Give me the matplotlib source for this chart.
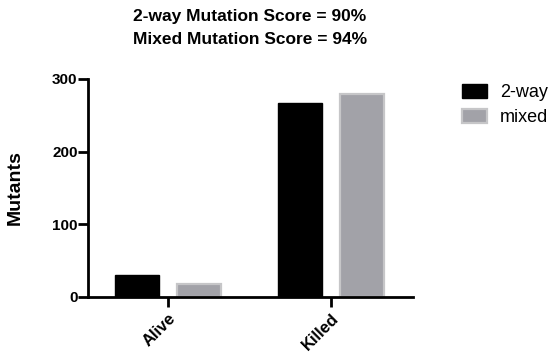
import numpy as np
import matplotlib.pyplot as plt

plt.rcParams['font.family'] = ['Liberation Sans', 'DejaVu Sans']

categories = ['Alive', 'Killed']
series_names = ['2-way', 'mixed']
two_way = [30, 267]
mixed = [18, 279]
title_lines = ['2-way Mutation Score = 90%', 'Mixed Mutation Score = 94%']

fig = plt.figure(figsize=(5.54, 3.56), dpi=100)
ax = fig.add_axes([88 / 554, 59 / 356, 325 / 554, 218 / 356])

x = np.arange(len(categories))
w = 0.268
ax.bar(x - 0.19, two_way, w, color='black', edgecolor='black', linewidth=1,
       label=series_names[0])
ax.bar(x + 0.19, mixed, w, color='#a2a2a8', edgecolor='#c6c6c8', linewidth=1.6,
       label=series_names[1])

ax.set_xlim(-0.488, 1.5)
ax.set_ylim(0, 300)
ax.set_yticks([0, 100, 200, 300])
ax.set_xticks(x)
ax.set_xticklabels(categories, rotation=45, ha='right', rotation_mode='anchor',
                   fontweight='bold', fontsize=12)
for lab in ax.get_yticklabels():
    lab.set_fontweight('bold')
    lab.set_fontsize(11)
ax.tick_params(axis='y', length=7, width=2, pad=0.5)
ax.tick_params(axis='x', length=7, width=2, pad=3)

for s in ['top', 'right']:
    ax.spines[s].set_visible(False)
for s in ['left', 'bottom']:
    ax.spines[s].set_linewidth(2)

ax.set_ylabel('Mutants', fontweight='bold', fontsize=14)
ax.yaxis.set_label_coords(-0.197, 0.5)

fig.text(250 / 554, 1 - 17 / 356, title_lines[0], ha='center', va='center',
         fontweight='bold', fontsize=12.5)
fig.text(250 / 554, 1 - 40 / 356, title_lines[1], ha='center', va='center',
         fontweight='bold', fontsize=12.5)

fig.legend(loc='upper left', bbox_to_anchor=(462 / 554, 1 - 84 / 356),
           frameon=False, fontsize=13, handlelength=1.4, handleheight=0.85,
           borderpad=0, borderaxespad=0, labelspacing=0.4, handletextpad=0.72)

fig.savefig('out.png', dpi=100)
